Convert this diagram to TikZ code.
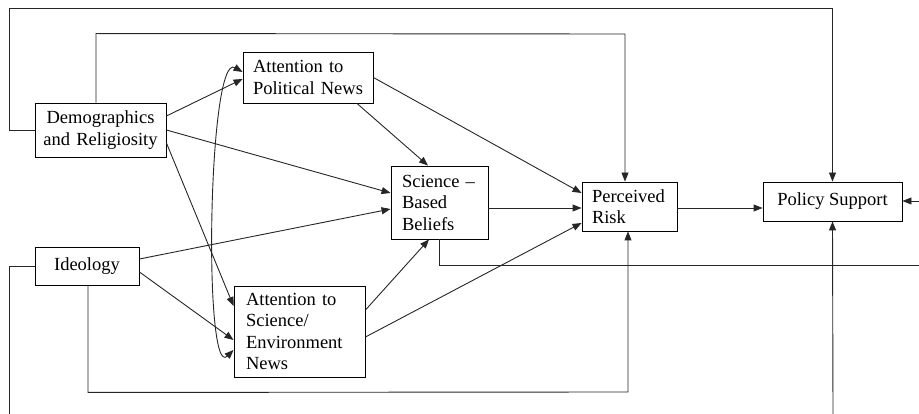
\documentclass[tikz,border=0pt]{standalone}
\usepackage{fontspec}
\setmainfont{Liberation Serif}
\usetikzlibrary{arrows.meta}
\begin{document}
\begin{tikzpicture}[x=1pt,y=-1pt,
  every node/.style={font=\fontsize{18.5}{21.5}\selectfont},
  box/.style={draw=black,line width=0.9pt,rectangle,inner sep=0pt,anchor=center},
  conn/.style={draw=black!85,line width=0.9pt,-{Triangle[length=9pt,width=7pt]}},
  plain/.style={draw=black!85,line width=0.9pt}]
\useasboundingbox (0,0) rectangle (919,414);
% nodes
\node[box,minimum width=131pt,minimum height=54pt,text width=125pt,align=center] (demo) at (100.5,130) {Demographics\\and Religiosity};
\node[box,minimum width=130pt,minimum height=51pt,text width=110pt,align=left] (attpol) at (308,77.5) {Attention to\\Political News};
\node[box,minimum width=97pt,minimum height=73pt,text width=75pt,align=left] (sbb) at (439.5,202.5) {Science –\\Based\\Beliefs};
\node[box,minimum width=95pt,minimum height=49pt,text width=75pt,align=left] (pr) at (629.5,206.5) {Perceived\\Risk};
\node[box,minimum width=139pt,minimum height=39pt,align=center] (ps) at (832.5,201.5) {Policy Support};
\node[box,minimum width=104pt,minimum height=38pt,align=center] (ideo) at (87,266) {Ideology};
\node[box,minimum width=131pt,minimum height=91pt,text width=107pt,align=left] (attsci) at (299.5,331.5) {Attention to\\Science/\\Environment\\News};
% free ends
\coordinate (ideoend) at (9,414);
\coordinate (sbbend) at (919,265);
\coordinate (psbot) at (833,414);
\coordinate (psright) at (919,201);
% straight arrows
\draw[conn] ([yshift=14pt]demo.east) -- ([yshift=-1.5pt]attpol.west);
\draw[conn] (demo.east) -- ([yshift=9.5pt]sbb.west);
\draw[conn] ([yshift=-13pt]demo.east) -- ([yshift=25.5pt]attsci.west);
\draw[conn] ([yshift=7pt]ideo.east) -- ([yshift=-6.5pt]sbb.west);
\draw[conn] ([yshift=-6pt]ideo.east) -- ([yshift=-8.5pt]attsci.west);
\draw[conn] ([xshift=49pt]attpol.south) -- ([xshift=-11.5pt]sbb.north);
\draw[conn] (attpol.east) -- ([yshift=13.5pt]pr.west);
\draw[conn] ([yshift=-5.5pt]sbb.east) -- ([yshift=-1.5pt]pr.west);
\draw[conn] ([yshift=21.5pt]attsci.east) -- ([xshift=-10.5pt]sbb.south);
\draw[conn] ([yshift=-5.5pt]attsci.east) -- ([yshift=-16.5pt]pr.west);
\draw[conn] ([yshift=-1.5pt]pr.east) -- ([yshift=-6.5pt]ps.west);
% loops
\draw[conn] (demo.west) -- (9,130) -- (9,8) -- (ps.north |- 0,8) -- (ps.north);
\draw[conn] ([xshift=-4.5pt]demo.north) -- ++(0,-69) -- ([xshift=-4.5pt]pr.north |- 0,34) -- ([xshift=-4.5pt]pr.north);
\draw[plain] (ideo.west) -- (ideoend |- ideo.west) -- (ideoend);
\draw[conn] ([xshift=1pt]ideo.south) -- ++(0,107) -- ([xshift=-1.5pt]pr.south |- 0,392) -- ([xshift=-1.5pt]pr.south);
\draw[plain] (sbb.south) -- (sbb.south |- sbbend) -- (sbbend);
\draw[conn] (psbot) -- (ps.south);
\draw[conn] (psright) -- (ps.east |- psright);
% curved double arrow
\draw[conn,{Triangle[length=9pt,width=7pt]}-{Triangle[length=9pt,width=7pt]}] ([yshift=5.5pt]attpol.west) .. controls (208,52) and (203,380) .. ([yshift=-18.5pt]attsci.west);
\end{tikzpicture}
\end{document}
